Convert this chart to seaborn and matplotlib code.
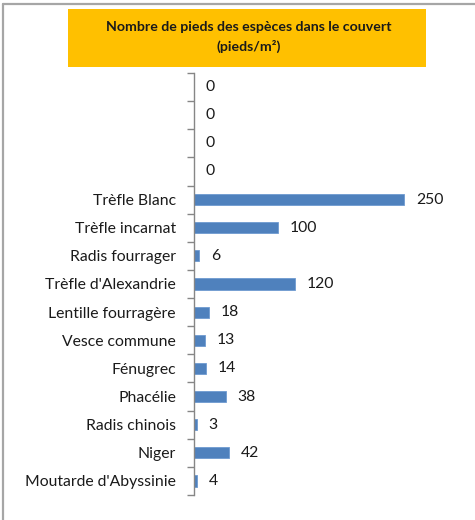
import matplotlib
matplotlib.use("Agg")
import matplotlib.pyplot as plt
from matplotlib.patches import Rectangle
from matplotlib.lines import Line2D
import seaborn as sns
import pandas as pd
import numpy as np

# Species (top to bottom) and plant counts per m²
species = ["", " ", "  ", "   ",
           "Trèfle Blanc", "Trèfle incarnat", "Radis fourrager",
           "Trèfle d'Alexandrie", "Lentille fourragère", "Vesce commune",
           "Fénugrec", "Phacélie", "Radis chinois", "Niger",
           "Moutarde d'Abyssinie"]
counts = [0, 0, 0, 0, 250, 100, 6, 120, 18, 13, 14, 38, 3, 42, 4]
title_lines = ["Nombre de pieds des espèces dans le couvert", "(pieds/m²)"]

df = pd.DataFrame({"espece": species, "pieds": counts})

sns.set_theme(style="white")
plt.rcParams["font.family"] = ["Lato", "DejaVu Sans"]

W, H = 475, 520
fig = plt.figure(figsize=(W / 100, H / 100), dpi=100)
fig.patch.set_facecolor("white")

# plot area in pixel coordinates
left_px, right_px, top_px, bottom_px = 194, 446, 73, 495
ax = fig.add_axes([left_px / W, 1 - bottom_px / H,
                   (right_px - left_px) / W, (bottom_px - top_px) / H])

sns.barplot(data=df, y="espece", x="pieds", order=species, orient="h",
            color="#4F81BD", width=0.4, saturation=1, edgecolor="#6F9BD1",
            linewidth=0.6, ax=ax)

ax.set_xlim(0, 300)
ax.set_ylim(len(species) - 0.5, -0.5)
ax.set_xlabel("")
ax.set_ylabel("")
ax.set_xticks([])

for s in ["top", "right", "bottom"]:
    ax.spines[s].set_visible(False)
ax.spines["left"].set_color("#868686")
ax.spines["left"].set_linewidth(1.0)

# category labels without marks, boundary ticks between categories
ax.tick_params(axis="y", which="major", length=0, pad=13,
               labelsize=11.3, labelcolor="#1a1a1a")
ax.set_yticks(np.arange(-0.5, len(species), 1.0), minor=True)
ax.tick_params(axis="y", which="minor", length=5, width=1.0,
               color="#868686", direction="out", left=True)

ax.bar_label(ax.containers[0], labels=[str(v) for v in counts],
             padding=8.5, fontsize=11.3, color="#1a1a1a")

# title box
fig.add_artist(Rectangle((68 / W, 1 - 67 / H), (426 - 68) / W, (67 - 9) / H,
                         transform=fig.transFigure, facecolor="#FFC000",
                         edgecolor="none", zorder=0))
fig.text(249 / W, 1 - 37 / H, "\n".join(title_lines), ha="center",
         va="center", fontsize=10.2, fontweight="bold", color="#1a1a1a",
         linespacing=1.6)

# frame lines along the top and left edges
fig.add_artist(Line2D([2.5 / W, 1], [1 - 4 / H, 1 - 4 / H],
                      transform=fig.transFigure, color="#A6A6A6", lw=1.6))
fig.add_artist(Line2D([2.5 / W, 2.5 / W], [0, 1 - 4 / H],
                      transform=fig.transFigure, color="#A6A6A6", lw=1.6))

fig.savefig("out.png", dpi=100, facecolor="white")
